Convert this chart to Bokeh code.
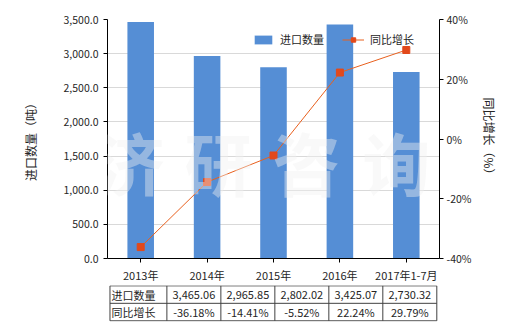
from bokeh.plotting import figure
from bokeh.models import (Range1d, LinearAxis, FixedTicker, NumeralTickFormatter,
                          PrintfTickFormatter, Legend, LegendItem, Label)
from bokeh.layouts import column
from bokeh.embed import file_html
from bokeh.resources import INLINE
from bokeh.core.properties import value

# ---------------- data ----------------
categories = ["2013年", "2014年", "2015年", "2016年", "2017年1-7月"]
import_qty = [3465.06, 2965.85, 2802.02, 3425.07, 2730.32]
yoy_growth = [-36.18, -14.41, -5.52, 22.24, 29.79]
left_ticks = [0, 500, 1000, 1500, 2000, 2500, 3000, 3500]
right_ticks = [-40, -20, 0, 20, 40]
series_names = ["进口数量", "同比增长"]
left_label = "进口数量（吨）"
right_label = "同比增长（%）"
watermark = ["济", "研", "咨", "询"]

FONT = "Noto Sans CJK SC"
BAR = "#558ED5"
LINE = "#E8601E"
MARK = "#E2491B"

xs = list(range(len(categories)))

# ---------------- main chart ----------------
p = figure(width=520, height=285, output_backend="svg", toolbar_location=None,
           x_range=Range1d(-0.5, len(categories) - 0.5), y_range=Range1d(0, 3500),
           min_border_left=107, min_border_right=81, min_border_top=19, min_border_bottom=26)
p.outline_line_color = None
p.extra_y_ranges = {"pct": Range1d(-40, 40)}

bars = p.vbar(x=xs, top=import_qty, width=0.4, color=BAR, line_color=None)
ln = p.line(x=xs, y=yoy_growth, y_range_name="pct", line_color=LINE, line_width=1)
mk = p.scatter(x=xs, y=yoy_growth, y_range_name="pct", marker="square", size=7,
               fill_color=MARK, line_color=MARK)

# axes
xa = p.xaxis[0]
xa.ticker = FixedTicker(ticks=xs)
xa.major_label_overrides = {i: c for i, c in enumerate(categories)}
xa.major_tick_out = 4
xa.major_tick_in = 0
xa.minor_tick_line_color = None
xa.major_label_standoff = 4
xa.axis_line_color = "black"
xa.major_tick_line_color = "black"

ya = p.yaxis[0]
ya.ticker = FixedTicker(ticks=left_ticks)
ya.formatter = NumeralTickFormatter(format="0,0.0")
ya.major_tick_out = 4
ya.major_tick_in = 0
ya.minor_tick_line_color = None
ya.major_label_standoff = 5
ya.axis_label = left_label
ya.axis_label_standoff = 22
ya.axis_line_color = "black"
ya.major_tick_line_color = "black"

ra = LinearAxis(y_range_name="pct", ticker=FixedTicker(ticks=right_ticks),
                formatter=PrintfTickFormatter(format="%d%%"))
ra.major_tick_out = 4
ra.major_tick_in = 0
ra.minor_tick_line_color = None
ra.major_label_standoff = 3
ra.axis_label = right_label
ra.axis_label_standoff = 7
ra.axis_line_color = "black"
ra.major_tick_line_color = "black"
p.add_layout(ra, "right")

for ax in [xa, ya, ra]:
    ax.major_label_text_font = FONT
    ax.major_label_text_font_size = "10.5px"
    ax.major_label_text_color = "#262626"
    ax.axis_label_text_font = FONT
    ax.axis_label_text_font_size = "12px"
    ax.axis_label_text_font_style = "normal"
    ax.axis_label_text_color = "#262626"
xa.major_label_text_font_size = "11px"

p.xgrid.grid_line_color = None
p.ygrid.ticker = FixedTicker(ticks=left_ticks)
p.ygrid.grid_line_color = "#D9D9D9"

legend = Legend(items=[LegendItem(label=series_names[0], renderers=[bars]),
                       LegendItem(label=series_names[1], renderers=[ln, mk])],
                orientation="horizontal", location=(145, 211),
                border_line_color=None, background_fill_alpha=0,
                glyph_width=22, glyph_height=11, label_standoff=6, spacing=18,
                padding=2, margin=0,
                label_text_font=FONT, label_text_font_size="11px", label_text_color="#262626")
p.add_layout(legend)

# watermark (on top)
wm_x = [130, 218, 306, 396]
for ch, xp in zip(watermark, wm_x):
    p.add_layout(Label(x=(xp - 107) / 66.4 - 0.5, y=(259 - 162) / 240 * 3500, text=ch,
                       text_font=FONT, text_font_size="68px", text_font_style="bold",
                       text_color="#F0F0F0", text_alpha=0.42,
                       text_align="center", text_baseline="middle"))

# ---------------- data table ----------------
t = figure(width=520, height=45, output_backend="svg", toolbar_location=None,
           x_range=Range1d(-1.6, 4.55), y_range=Range1d(2.04, -0.02),
           x_axis_type=None, y_axis_type=None,
           min_border_left=34, min_border_right=78, min_border_top=0, min_border_bottom=9)
t.outline_line_color = None
t.xgrid.grid_line_color = None
t.ygrid.grid_line_color = None

left_edge = -1.554
n = len(categories)
hx0, hx1, hy = [], [], []
for r in range(3):
    hx0.append(left_edge); hx1.append(n - 0.5); hy.append(r)
t.segment(x0=hx0, y0=hy, x1=hx1, y1=hy, line_color="#404040", line_width=1)
vxs = [left_edge] + [i - 0.5 for i in range(n + 1)]
t.segment(x0=vxs, y0=[0] * len(vxs), x1=vxs, y1=[2] * len(vxs), line_color="#404040", line_width=1)

row_labels = series_names
t.text(x=[left_edge + 0.03] * 2, y=[0.5, 1.5], text=row_labels,
       text_font=value(FONT), text_font_size="11px", text_color="#262626",
       text_align="left", text_baseline="middle")
qty_txt = [f"{v:,.2f}" for v in import_qty]
pct_txt = [f"{v:.2f}%" for v in yoy_growth]
t.text(x=xs + xs, y=[0.5] * n + [1.5] * n, text=qty_txt + pct_txt,
       text_font=value(FONT), text_font_size="11px", text_color="#262626",
       text_align="center", text_baseline="middle")

layout = column(p, t, spacing=0)
open("out.html", "w").write(file_html(layout, INLINE))
